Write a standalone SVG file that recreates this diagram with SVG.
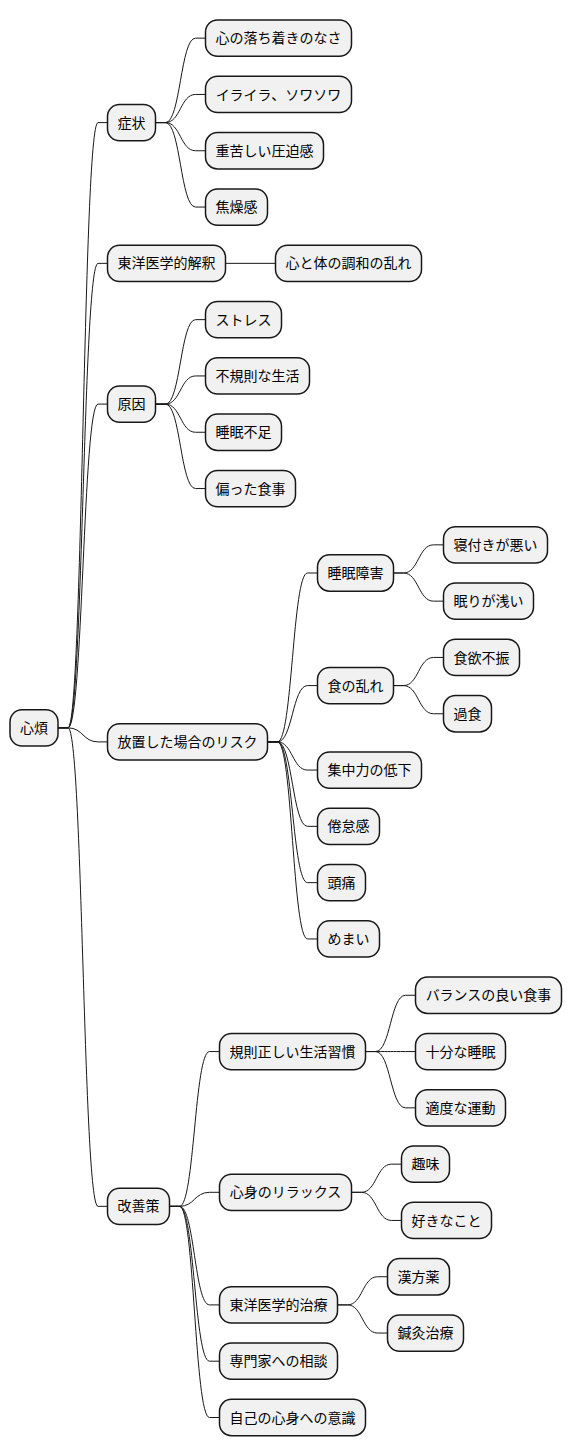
<svg xmlns="http://www.w3.org/2000/svg" width="572" height="1456" viewBox="0 0 572 1456">
<style>
.n rect{fill:#F1F1F1;stroke:#181818;stroke-width:1.5}
.n text{font-family:"Noto Sans CJK JP","Noto Sans",sans-serif;font-size:14px;fill:#000000;text-anchor:middle}
#connectors path{fill:none;stroke:#181818;stroke-width:1}
</style>
<rect x="0" y="0" width="572" height="1456" fill="#FFFFFF"/>
<g id="connectors">
<path d="M58,727.85 L68,727.85 C83,727.85 83,122.6 98,122.6 L107.5,122.6"/>
<path d="M58,727.85 L68,727.85 C83,727.85 83,263.35 98,263.35 L107.5,263.35"/>
<path d="M58,727.85 L68,727.85 C83,727.85 83,404.1 98,404.1 L107.5,404.1"/>
<path d="M58,727.85 L68,727.85 C83,727.85 83,741.9 98,741.9 L107.5,741.9"/>
<path d="M58,727.85 L68,727.85 C83,727.85 83,1206.35 98,1206.35 L107.5,1206.35"/>
<path d="M155.5,122.6 L165.5,122.6 C180.5,122.6 180.5,38.15 195.5,38.15 L205.5,38.15"/>
<path d="M155.5,122.6 L165.5,122.6 C180.5,122.6 180.5,94.45 195.5,94.45 L205.5,94.45"/>
<path d="M155.5,122.6 L165.5,122.6 C180.5,122.6 180.5,150.75 195.5,150.75 L205.5,150.75"/>
<path d="M155.5,122.6 L165.5,122.6 C180.5,122.6 180.5,207.05 195.5,207.05 L205.5,207.05"/>
<path d="M225.5,263.35 L275.5,263.35"/>
<path d="M155.5,404.1 L165.5,404.1 C180.5,404.1 180.5,319.65 195.5,319.65 L205.5,319.65"/>
<path d="M155.5,404.1 L165.5,404.1 C180.5,404.1 180.5,375.95 195.5,375.95 L205.5,375.95"/>
<path d="M155.5,404.1 L165.5,404.1 C180.5,404.1 180.5,432.25 195.5,432.25 L205.5,432.25"/>
<path d="M155.5,404.1 L165.5,404.1 C180.5,404.1 180.5,488.55 195.5,488.55 L205.5,488.55"/>
<path d="M267.5,741.9 L277.5,741.9 C292.5,741.9 292.5,573 307.5,573 L317.5,573"/>
<path d="M267.5,741.9 L277.5,741.9 C292.5,741.9 292.5,685.6 307.5,685.6 L317.5,685.6"/>
<path d="M267.5,741.9 L277.5,741.9 C292.5,741.9 292.5,770.05 307.5,770.05 L317.5,770.05"/>
<path d="M267.5,741.9 L277.5,741.9 C292.5,741.9 292.5,826.35 307.5,826.35 L317.5,826.35"/>
<path d="M267.5,741.9 L277.5,741.9 C292.5,741.9 292.5,882.65 307.5,882.65 L317.5,882.65"/>
<path d="M267.5,741.9 L277.5,741.9 C292.5,741.9 292.5,938.95 307.5,938.95 L317.5,938.95"/>
<path d="M393.5,573 L403.5,573 C418.5,573 418.5,544.85 433.5,544.85 L443.5,544.85"/>
<path d="M393.5,573 L403.5,573 C418.5,573 418.5,601.15 433.5,601.15 L443.5,601.15"/>
<path d="M393.5,685.6 L403.5,685.6 C418.5,685.6 418.5,657.45 433.5,657.45 L443.5,657.45"/>
<path d="M393.5,685.6 L403.5,685.6 C418.5,685.6 418.5,713.75 433.5,713.75 L443.5,713.75"/>
<path d="M169.5,1206.35 L179.5,1206.35 C194.5,1206.35 194.5,1051.55 209.5,1051.55 L219.5,1051.55"/>
<path d="M169.5,1206.35 L179.5,1206.35 C194.5,1206.35 194.5,1192.3 209.5,1192.3 L219.5,1192.3"/>
<path d="M169.5,1206.35 L179.5,1206.35 C194.5,1206.35 194.5,1304.9 209.5,1304.9 L219.5,1304.9"/>
<path d="M169.5,1206.35 L179.5,1206.35 C194.5,1206.35 194.5,1361.2 209.5,1361.2 L219.5,1361.2"/>
<path d="M169.5,1206.35 L179.5,1206.35 C194.5,1206.35 194.5,1417.5 209.5,1417.5 L219.5,1417.5"/>
<path d="M365.5,1051.55 L375.5,1051.55 C390.5,1051.55 390.5,995.25 405.5,995.25 L415.5,995.25"/>
<path d="M365.5,1051.55 L375.5,1051.55 C390.5,1051.55 390.5,1051.55 405.5,1051.55 L415.5,1051.55"/>
<path d="M365.5,1051.55 L375.5,1051.55 C390.5,1051.55 390.5,1107.85 405.5,1107.85 L415.5,1107.85"/>
<path d="M351.5,1192.3 L361.5,1192.3 C376.5,1192.3 376.5,1164.15 391.5,1164.15 L401.5,1164.15"/>
<path d="M351.5,1192.3 L361.5,1192.3 C376.5,1192.3 376.5,1220.45 391.5,1220.45 L401.5,1220.45"/>
<path d="M337.5,1304.9 L347.5,1304.9 C362.5,1304.9 362.5,1276.75 377.5,1276.75 L387.5,1276.75"/>
<path d="M337.5,1304.9 L347.5,1304.9 C362.5,1304.9 362.5,1333.05 377.5,1333.05 L387.5,1333.05"/>
</g>
<g id="root" class="n"><rect x="10" y="709.7" width="48" height="36.3" rx="12"/><text x="34" y="732.9">心煩</text></g>
<g id="n1" class="n"><rect x="107.5" y="104.45" width="48" height="36.3" rx="12"/><text x="131.5" y="127.6">症状</text></g>
<g id="n1a" class="n"><rect x="205.5" y="20" width="146" height="36.3" rx="12"/><text x="278.5" y="43.2">心の落ち着きのなさ</text></g>
<g id="n1b" class="n"><rect x="205.5" y="76.3" width="146" height="36.3" rx="12"/><text x="278.5" y="99.5">イライラ、ソワソワ</text></g>
<g id="n1c" class="n"><rect x="205.5" y="132.6" width="118" height="36.3" rx="12"/><text x="264.5" y="155.8">重苦しい圧迫感</text></g>
<g id="n1d" class="n"><rect x="205.5" y="188.9" width="62" height="36.3" rx="12"/><text x="236.5" y="212.1">焦燥感</text></g>
<g id="n2" class="n"><rect x="107.5" y="245.2" width="118" height="36.3" rx="12"/><text x="166.5" y="268.4">東洋医学的解釈</text></g>
<g id="n2a" class="n"><rect x="275.5" y="245.2" width="146" height="36.3" rx="12"/><text x="348.5" y="268.4">心と体の調和の乱れ</text></g>
<g id="n3" class="n"><rect x="107.5" y="385.95" width="48" height="36.3" rx="12"/><text x="131.5" y="409.1">原因</text></g>
<g id="n3a" class="n"><rect x="205.5" y="301.5" width="76" height="36.3" rx="12"/><text x="243.5" y="324.7">ストレス</text></g>
<g id="n3b" class="n"><rect x="205.5" y="357.8" width="104" height="36.3" rx="12"/><text x="257.5" y="381">不規則な生活</text></g>
<g id="n3c" class="n"><rect x="205.5" y="414.1" width="76" height="36.3" rx="12"/><text x="243.5" y="437.3">睡眠不足</text></g>
<g id="n3d" class="n"><rect x="205.5" y="470.4" width="90" height="36.3" rx="12"/><text x="250.5" y="493.6">偏った食事</text></g>
<g id="n4" class="n"><rect x="107.5" y="723.75" width="160" height="36.3" rx="12"/><text x="187.5" y="746.9">放置した場合のリスク</text></g>
<g id="n4a" class="n"><rect x="317.5" y="554.85" width="76" height="36.3" rx="12"/><text x="355.5" y="578">睡眠障害</text></g>
<g id="n4a1" class="n"><rect x="443.5" y="526.7" width="104" height="36.3" rx="12"/><text x="495.5" y="549.9">寝付きが悪い</text></g>
<g id="n4a2" class="n"><rect x="443.5" y="583" width="90" height="36.3" rx="12"/><text x="488.5" y="606.2">眠りが浅い</text></g>
<g id="n4b" class="n"><rect x="317.5" y="667.45" width="76" height="36.3" rx="12"/><text x="355.5" y="690.6">食の乱れ</text></g>
<g id="n4b1" class="n"><rect x="443.5" y="639.3" width="76" height="36.3" rx="12"/><text x="481.5" y="662.5">食欲不振</text></g>
<g id="n4b2" class="n"><rect x="443.5" y="695.6" width="48" height="36.3" rx="12"/><text x="467.5" y="718.8">過食</text></g>
<g id="n4c" class="n"><rect x="317.5" y="751.9" width="104" height="36.3" rx="12"/><text x="369.5" y="775.1">集中力の低下</text></g>
<g id="n4d" class="n"><rect x="317.5" y="808.2" width="62" height="36.3" rx="12"/><text x="348.5" y="831.4">倦怠感</text></g>
<g id="n4e" class="n"><rect x="317.5" y="864.5" width="48" height="36.3" rx="12"/><text x="341.5" y="887.7">頭痛</text></g>
<g id="n4f" class="n"><rect x="317.5" y="920.8" width="62" height="36.3" rx="12"/><text x="348.5" y="944">めまい</text></g>
<g id="n5" class="n"><rect x="107.5" y="1188.2" width="62" height="36.3" rx="12"/><text x="138.5" y="1211.4">改善策</text></g>
<g id="n5a" class="n"><rect x="219.5" y="1033.4" width="146" height="36.3" rx="12"/><text x="292.5" y="1056.6">規則正しい生活習慣</text></g>
<g id="n5a1" class="n"><rect x="415.5" y="977.1" width="146" height="36.3" rx="12"/><text x="488.5" y="1000.3">バランスの良い食事</text></g>
<g id="n5a2" class="n"><rect x="415.5" y="1033.4" width="90" height="36.3" rx="12"/><text x="460.5" y="1056.6">十分な睡眠</text></g>
<g id="n5a3" class="n"><rect x="415.5" y="1089.7" width="90" height="36.3" rx="12"/><text x="460.5" y="1112.9">適度な運動</text></g>
<g id="n5b" class="n"><rect x="219.5" y="1174.15" width="132" height="36.3" rx="12"/><text x="285.5" y="1197.3">心身のリラックス</text></g>
<g id="n5b1" class="n"><rect x="401.5" y="1146" width="48" height="36.3" rx="12"/><text x="425.5" y="1169.2">趣味</text></g>
<g id="n5b2" class="n"><rect x="401.5" y="1202.3" width="90" height="36.3" rx="12"/><text x="446.5" y="1225.5">好きなこと</text></g>
<g id="n5c" class="n"><rect x="219.5" y="1286.75" width="118" height="36.3" rx="12"/><text x="278.5" y="1309.9">東洋医学的治療</text></g>
<g id="n5c1" class="n"><rect x="387.5" y="1258.6" width="62" height="36.3" rx="12"/><text x="418.5" y="1281.8">漢方薬</text></g>
<g id="n5c2" class="n"><rect x="387.5" y="1314.9" width="76" height="36.3" rx="12"/><text x="425.5" y="1338.1">鍼灸治療</text></g>
<g id="n5d" class="n"><rect x="219.5" y="1343.05" width="118" height="36.3" rx="12"/><text x="278.5" y="1366.2">専門家への相談</text></g>
<g id="n5e" class="n"><rect x="219.5" y="1399.35" width="146" height="36.3" rx="12"/><text x="292.5" y="1422.5">自己の心身への意識</text></g>
</svg>
